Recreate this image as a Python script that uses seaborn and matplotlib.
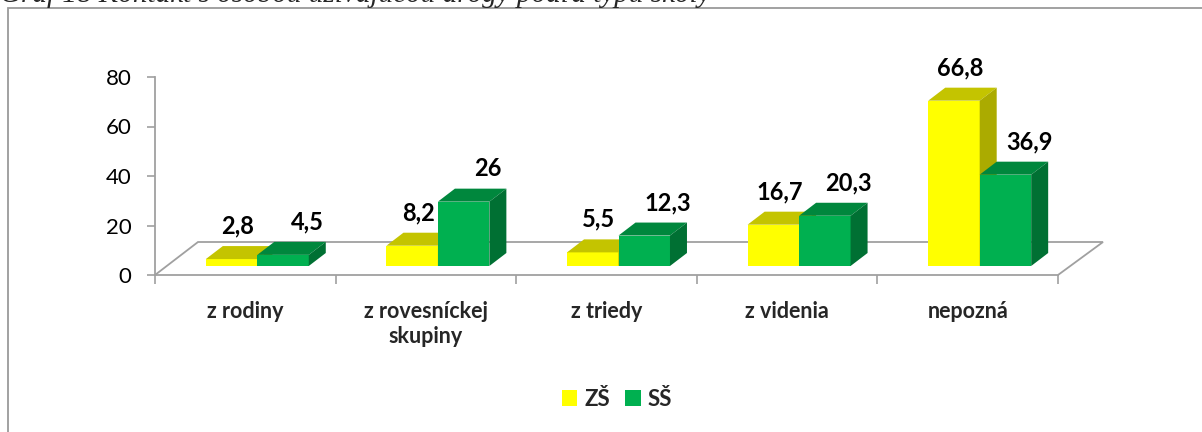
import matplotlib
matplotlib.use("Agg")
import matplotlib.pyplot as plt
import matplotlib.transforms as mtransforms
from matplotlib.patches import Polygon, Rectangle, Patch
import seaborn as sns
import pandas as pd

# udaje z grafu (v %)
kategorie = ["z rodiny", "z rovesníckej\nskupiny", "z triedy", "z videnia", "nepozná"]
skupiny = ["ZŠ", "SŠ"]
hodnoty_zs = [2.8, 8.2, 5.5, 16.7, 66.8]
hodnoty_ss = [4.5, 26, 12.3, 20.3, 36.9]
y_ticky = [0, 20, 40, 60, 80]
nadpis = "Graf 18 Kontakt s osobou užívajúcou drogy podľa typu školy"

df = pd.DataFrame({
    "Kontakt": kategorie * 2,
    "Typ": [skupiny[0]] * len(kategorie) + [skupiny[1]] * len(kategorie),
    "Percento": hodnoty_zs + hodnoty_ss,
})

farby = {"ZŠ": "#FFFF00", "SŠ": "#00B050"}
farby_vrch = {"ZŠ": "#C4C400", "SŠ": "#00873D"}
farby_bok = {"ZŠ": "#ABAB00", "SŠ": "#007033"}
siva = "#A0A0A0"

sns.set_theme(style="white")
plt.rcParams["font.family"] = ["Lato", "DejaVu Sans"]

W, H = 1202, 432
fig = plt.figure(figsize=(W / 100, H / 100), dpi=100)
ax = fig.add_axes([155 / W, 157 / H, 903 / W, 198 / H])

sns.barplot(data=df, x="Kontakt", y="Percento", hue="Typ", palette=farby,
            width=0.57, saturation=1, ax=ax, legend=False,
            edgecolor="none", linewidth=0)

ax.set_xlim(-0.5, len(kategorie) - 0.5)
ax.set_ylim(0, 80)
ax.set_yticks(y_ticky)
ax.set_xlabel("")
ax.set_ylabel("")

for s in ["top", "right"]:
    ax.spines[s].set_visible(False)
for s in ["left", "bottom"]:
    ax.spines[s].set_color(siva)
    ax.spines[s].set_linewidth(1.3)

ax.tick_params(axis="y", direction="out", length=6, width=1.2, color=siva,
               left=True, labelsize=16, pad=11, labelcolor="black")
ax.tick_params(axis="x", which="major", length=0, pad=19, labelsize=15.5)
for t in ax.get_xticklabels():
    t.set_fontweight("bold")
    t.set_linespacing(1.2)
ax.set_xticks([i - 0.5 for i in range(len(kategorie) + 1)], minor=True)
ax.tick_params(axis="x", which="minor", direction="out", length=6.5,
               width=1.2, color=siva, bottom=True)

# pseudo 3D - posun stlpcov dozadu na podlahu
posun = mtransforms.ScaledTranslation(12 / 100, 9 / 100, fig.dpi_scale_trans)
hlbka_x, hlbka_y = 17, 13
ident = mtransforms.IdentityTransform()

# podlaha
p0 = ax.transData.transform((-0.5, 0))
p1 = ax.transData.transform((len(kategorie) - 0.5, 0))
podlaha = Polygon([p0, (p0[0] + 43, p0[1] + 33), (p1[0] + 45, p1[1] + 33), p1],
                  closed=False, fill=False, edgecolor=siva, linewidth=1.3,
                  transform=ident, clip_on=False, zorder=1)
ax.add_patch(podlaha)

bary = [p for p in ax.patches if isinstance(p, Rectangle)][:2 * len(kategorie)]
for i, bar in enumerate(bary):
    typ = skupiny[i // len(kategorie)]
    z = 2 if typ == "ZŠ" else 3
    bar.set_transform(ax.transData + posun)
    bar.set_zorder(z)
    bar.set_clip_on(False)
    x0, x1 = bar.get_x(), bar.get_x() + bar.get_width()
    h = bar.get_height()
    a = (ax.transData + posun).transform((x0, h))
    b = (ax.transData + posun).transform((x1, h))
    c = (ax.transData + posun).transform((x1, 0))
    vrch = Polygon([a, b, (b[0] + hlbka_x, b[1] + hlbka_y), (a[0] + hlbka_x, a[1] + hlbka_y)],
                   facecolor=farby_vrch[typ], edgecolor="none", transform=ident,
                   clip_on=False, zorder=z + 0.1)
    bok = Polygon([b, c, (c[0] + hlbka_x, c[1] + hlbka_y), (b[0] + hlbka_x, b[1] + hlbka_y)],
                  facecolor=farby_bok[typ], edgecolor="none", transform=ident,
                  clip_on=False, zorder=z + 0.1)
    ax.add_patch(vrch)
    ax.add_patch(bok)
    dx = 6 if typ == "ZŠ" else 24
    ax.annotate(f"{h:g}".replace(".", ","), xy=((x0 + x1) / 2, h),
                xytext=(12 + dx, 9 + 33), textcoords="offset pixels",
                ha="center", va="center", fontsize=17, fontweight="bold",
                color="black", annotation_clip=False, zorder=5)

# legenda
ruky = [Patch(facecolor=farby[s], edgecolor="none", label=s) for s in skupiny]
fig.legend(handles=ruky, loc="center", bbox_to_anchor=(617 / W, 1 - 399 / H),
           ncol=2, frameon=False, prop={"weight": "bold", "size": 16},
           handlelength=0.7, handleheight=0.7, handletextpad=0.3,
           columnspacing=0.7)

# ramcek grafu a orezany nadpis
fig.add_artist(Rectangle((8 / W, -0.1), 1.2, 1.1 - 8.5 / H, fill=False,
                         edgecolor="#9A9A9A", linewidth=1.3,
                         transform=fig.transFigure))
fig.text(0, 1 - 2 / H, nadpis, fontsize=21, style="italic",
         family=["Liberation Serif", "DejaVu Serif"], va="baseline", ha="left")

fig.savefig("out.png", dpi=100, facecolor="white")
